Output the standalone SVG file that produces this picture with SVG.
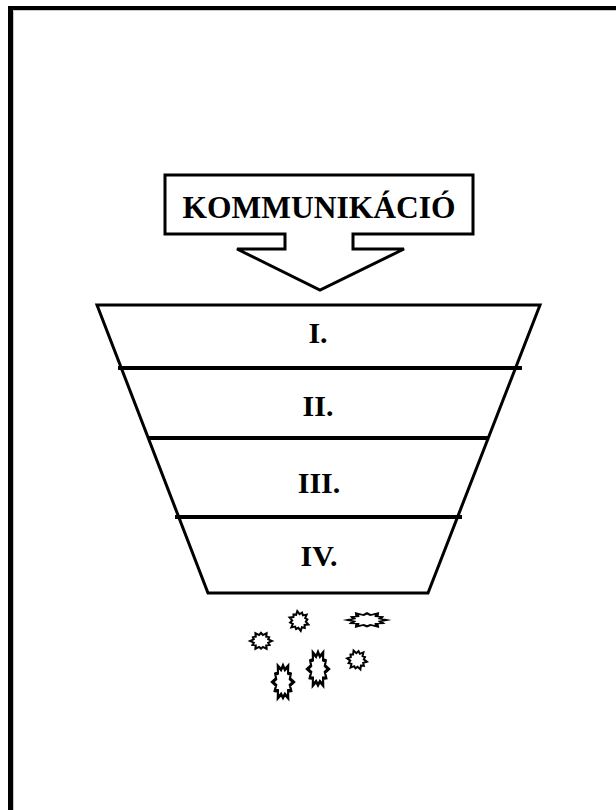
<svg xmlns="http://www.w3.org/2000/svg" width="616" height="810" viewBox="0 0 616 810">
  <style>
    .lbl { font-family: "Liberation Serif", "Times New Roman", serif; font-weight: bold; fill: #000; text-anchor: middle; }
    .outline { fill: #fff; stroke: #000; stroke-width: 3; stroke-linejoin: miter; }
    .divider { stroke: #000; stroke-width: 4; }
    .splat { fill: #fff; stroke: #000; stroke-width: 2; stroke-linejoin: miter; stroke-miterlimit: 4; vector-effect: non-scaling-stroke; }
  </style>
  <defs>
    <path id="star" d="M10,0 L6.57,1.76 L7.79,4.5 L4.81,4.81 L5,8.66 L1.76,6.57 L0,8.5 L-1.76,6.57 L-5,8.66 L-4.81,4.81 L-7.79,4.5 L-6.57,1.76 L-10,0 L-6.57,-1.76 L-7.36,-4.25 L-4.81,-4.81 L-5,-8.66 L-1.76,-6.57 L0,-9 L1.76,-6.57 L5,-8.66 L4.81,-4.81 L7.36,-4.25 L6.57,-1.76 Z"/>
  </defs>
  <rect width="616" height="810" fill="#fff"/>
  <g id="frame">
    <rect x="8" y="6" width="608" height="4" fill="#000"/>
    <rect x="8" y="6" width="5" height="804" fill="#000"/>
    <line x1="13.5" y1="10.5" x2="616" y2="10.5" stroke="#c8c8c8" stroke-width="1"/>
    <line x1="13.5" y1="10.5" x2="13.5" y2="810" stroke="#c8c8c8" stroke-width="1"/>
  </g>
  <g id="callout">
    <polygon class="outline" points="165,175 473,175 473,234 353,234 353,249 404,249 320,290 237,249 285,249 285,234 165,234"/>
    <text class="lbl" x="319" y="218" font-size="31.5">KOMMUNIKÁCIÓ</text>
  </g>
  <g id="funnel">
    <polygon class="outline" points="97,305 540,305 428,593 208,593"/>
    <g id="level-1">
      <text class="lbl" x="318" y="343" font-size="30">I.</text>
    </g>
    <g id="level-2">
      <line class="divider" x1="118" y1="368" x2="522" y2="368"/>
      <text class="lbl" x="318" y="416" font-size="30">II.</text>
    </g>
    <g id="level-3">
      <line class="divider" x1="148" y1="438" x2="489" y2="438"/>
      <text class="lbl" x="319" y="493" font-size="30">III.</text>
    </g>
    <g id="level-4">
      <line class="divider" x1="175" y1="517" x2="462" y2="517"/>
      <text class="lbl" x="319" y="566" font-size="30">IV.</text>
    </g>
  </g>
  <g id="splats">
    <use href="#star" class="splat" transform="translate(261,641) scale(1.1,0.9)"/>
    <use href="#star" class="splat" transform="translate(299,621) rotate(20)"/>
    <use href="#star" class="splat" transform="translate(367,620) scale(2,0.75)"/>
    <use href="#star" class="splat" transform="translate(283,682) scale(1.05,1.85)"/>
    <use href="#star" class="splat" transform="translate(318,669) scale(1.05,1.9)"/>
    <use href="#star" class="splat" transform="translate(357,660) rotate(10)"/>
  </g>
</svg>
